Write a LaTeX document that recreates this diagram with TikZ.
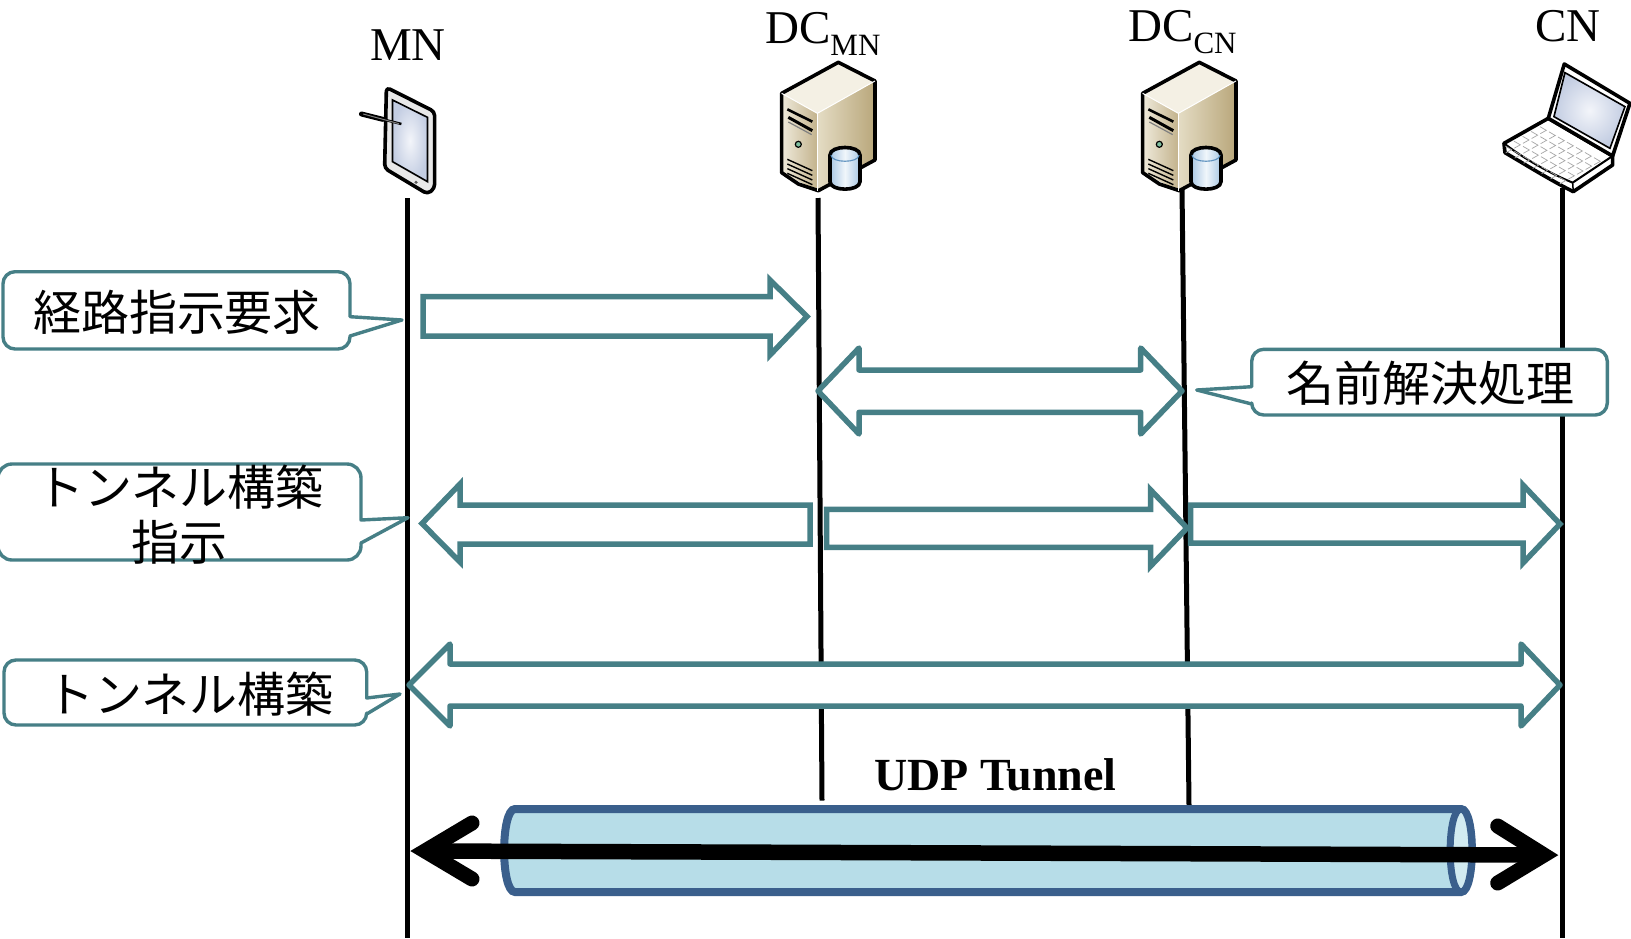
\documentclass[tikz,border=0pt]{standalone}
\usepackage{fontspec}
\setmainfont{Liberation Serif}
\newfontfamily\jpfont{Noto Sans CJK JP}
\definecolor{tealline}{HTML}{467F86}
\definecolor{tubeline}{HTML}{3A5F8C}
\definecolor{tubefill}{HTML}{B7DDE8}
\definecolor{tubeend}{HTML}{D2EBF1}
\definecolor{srvtop}{HTML}{F4F0E4}
\definecolor{srvfrontL}{HTML}{EFEADB}
\definecolor{srvfrontR}{HTML}{C3B38D}
\definecolor{srvsideL}{HTML}{E4DCC4}
\definecolor{srvsideR}{HTML}{B9A77B}
\definecolor{srvled}{HTML}{7FBFA0}
\definecolor{cylside}{HTML}{A9C7E3}
\definecolor{cylmid}{HTML}{F0F6FB}
\definecolor{cylrim}{HTML}{5C90BE}
\definecolor{glassin}{HTML}{F3F5FA}
\definecolor{glassout}{HTML}{C3CDE2}
\definecolor{tabbody}{HTML}{E8E8E8}
\tikzset{
  lifeline/.style={draw=black,line width=5pt},
  blockmiter/.style={draw=tealline,fill=white,line width=5.5pt,line join=miter,miter limit=10},
  blockround/.style={draw=tealline,fill=white,line width=5.5pt,line join=round},
  callout/.style={draw=tealline,fill=white,line width=3.4pt,line join=round},
  jplabel/.style={font=\jpfont\fontsize{48}{55}\selectfont,inner sep=0pt,text=black,align=center},
  actor/.style={font=\fontsize{47}{50}\selectfont,inner sep=0pt,anchor=base,text=black},
  iconline/.style={draw=black,line width=3.6pt,line join=round},
  thickhead/.style={draw=black,line width=15pt,line cap=round,line join=miter,miter limit=10},
  tube/.style={draw=tubeline,line width=8pt},
}
\newcommand{\serverdraw}[1]{%
  \begin{scope}[shift={(#1,0)},scale=0.3333]
    \path[left color=srvfrontL,right color=srvfrontR] (68,280)--(175,340)--(175,572)--(68,518)--cycle;
    \path[left color=srvsideL,right color=srvsideR] (175,340)--(348,243)--(348,480)--(175,572)--cycle;
    \path[fill=srvtop] (238,187)--(348,243)--(175,340)--(68,280)--cycle;
    \draw[iconline] (238,187)--(348,243)--(348,480)--(178,572)--(118,552)--(68,518)--(68,280)--cycle;
    \draw[white,line width=1pt] (68,280)--(175,340)--(348,243);
    \draw[white,line width=1pt] (175,340)--(175,572);
    \draw[black,line width=2.6pt] (85,328)--(160,365);
    \draw[black,line width=3pt] (88,352)--(160,392);
    \draw[gray,line width=1.2pt] (88,366)--(158,404);
    \draw[black,fill=srvled,line width=1.2pt] (118,433) circle (9);
    \foreach \dy in {0,14,28,42}{\draw[black,line width=1.4pt] (85,478+\dy)--(160,512+\dy);}
    \path[left color=cylside,right color=cylside,middle color=cylmid,draw=black,line width=3.6pt]
      (213,465)--(213,545) .. controls (213,575) and (303,575) .. (303,545)--(303,465)
      .. controls (303,435) and (213,435) .. (213,465)--cycle;
    \draw[draw=cylrim,line width=1.1pt] (216,465) .. controls (216,490) and (300,490) .. (300,465);
  \end{scope}}
\begin{document}
\begin{tikzpicture}[x=1pt,y=-1pt]
\useasboundingbox (0,0) rectangle (1631,938);
\fill[white] (0,0) rectangle (1631,938);
% lifeline ends
\coordinate (mnTop) at (407.7,198);   \coordinate (mnBot) at (407.7,938);
\coordinate (dmTop) at (818,198);     \coordinate (dmBot) at (822,800.5);
\coordinate (dcTop) at (1182,188);    \coordinate (dcBot) at (1189,805);
\coordinate (cnTop) at (1562,188);    \coordinate (cnBot) at (1562,938);
\draw[lifeline] (mnTop)--(mnBot);
\draw[lifeline] (dmTop)--(dmBot);
\draw[lifeline] (dcTop)--(dcBot);
\draw[lifeline] (cnTop)--(cnBot);
% labels
\node[actor] (mn) at (408,60) {MN};
\node[actor,anchor=base west] (dcmn) at (765,43.3) {DC\raisebox{-11.7pt}{\fontsize{31}{33}\selectfont MN}};
\node[actor,anchor=base west] (dccn) at (1128,41.7) {DC\raisebox{-11.7pt}{\fontsize{31}{33}\selectfont CN}};
\node[actor] (cn) at (1568,41.7) {CN};
% tablet
\begin{scope}[shift={(340,0)},xscale=0.357,yscale=0.3333]
  \path[fill=tabbody,rounded corners=4pt,draw=black,line width=3.6pt,line join=round]
    (130,262)--(265,335)--(265,565)--(245,582)--(125,505)--cycle;
  \shade[inner color=glassin,outer color=glassout,draw=black,line width=1.6pt] (147,300)--(245,352)--(245,545)--(147,485)--cycle;
  \draw[black,line width=5pt,line cap=round] (60,342)--(120,358);
  \draw[black,line width=2.5pt] (120,358)--(172,372);
  \draw[gray,line width=1pt] (65,342)--(165,371);
  \fill[gray!70!black] (213,547) circle (5);
\end{scope}
% servers
\serverdraw{759}
\serverdraw{1120}
% laptop
\begin{scope}[shift={(1120,0)},scale=0.3333]
  \path[fill=white,draw=black,line width=3.6pt,line join=round]
    (1152,430)--(1285,355)--(1478,468)--(1478,495)--(1360,575)
    .. controls (1290,540) and (1210,490) .. (1155,458)--cycle;
  \draw[black,line width=2pt] (1152,430) .. controls (1210,475) and (1290,520) .. (1358,548)--(1478,468);
  \draw[black,line width=1.5pt] (1358,548)--(1360,575);
  \foreach \i in {0,...,6}{\foreach \j in {0,...,4}{
    \draw[black!35,line width=.7pt]
      ({1260-\j*26+\i*27},{380+\j*14.5+\i*15.5})--++(19,11)--++(-18,10);
  }}
  \path[fill=white,draw=black,line width=3.6pt,line join=round]
    (1285,355)--(1333,192)--(1530,310)--(1478,468)--cycle;
  \shade[inner color=glassin,outer color=glassout,draw=black,line width=1.6pt]
    (1302,350)--(1335,218)--(1515,320)--(1470,445)--cycle;
\end{scope}
% block arrows
\path[blockmiter] (423,296.7)--(770,296.7)--(770,280)--(807,316.5)--(770,355)--(770,336)--(423,336)--cycle;
\path[blockround] (818,391)--(859,348)--(859,370)--(1140.7,370)--(1140.7,348)--(1182,391)--(1140.7,434)--(1140.7,412.3)--(859,412.3)--(859,434)--cycle;
\path[blockmiter] (810,505)--(460,505)--(460,484)--(422,523.5)--(460,562)--(460,544)--(810,544)--cycle;
\path[blockmiter] (826.7,509.3)--(1150.7,509.3)--(1150.7,490)--(1187,528)--(1150.7,566)--(1150.7,547.3)--(826.7,547.3)--cycle;
\path[blockmiter] (1190.7,505)--(1523,505)--(1523,485)--(1560,524)--(1523,563)--(1523,543)--(1190.7,543)--cycle;
\path[blockround] (409,685)--(450,644)--(450,664)--(1521,664)--(1521,644)--(1560,685)--(1521,726)--(1521,706)--(450,706)--(450,726)--cycle;
% callouts
\coordinate (tipA) at (402,320);
\coordinate (tipB) at (1196.7,390);
\coordinate (tipC) at (408,517.7);
\coordinate (tipD) at (400,694);
\draw[callout] (350,316.7)--(tipA)--(350,336) [rounded corners=12pt]--(350,349)--(3,349)--(3,271.7)--(350,271.7)--(350,316.7) [sharp corners]--cycle;
\draw[callout] (1251.7,386.7)--(tipB)--(1251.7,404) [rounded corners=12pt]--(1251.7,415)--(1607.3,415)--(1607.3,349.3)--(1251.7,349.3)--(1251.7,386.7) [sharp corners]--cycle;
\draw[callout] (361,520)--(tipC)--(361,543) [rounded corners=14pt]--(361,560)--(-2,560)--(-2,464)--(361,464)--(361,520) [sharp corners]--cycle;
\draw[callout] (366.7,698)--(tipD)--(366.7,714) [rounded corners=12pt]--(366.7,725)--(4,725)--(4,660)--(366.7,660)--(366.7,698) [sharp corners]--cycle;
\node[jplabel,anchor=base] (lA) at (177,330) {経路指示要求};
\node[jplabel,anchor=base] (lB) at (1430,401) {名前解決処理};
\node[jplabel,anchor=center] (lC) at (180,515) {トンネル構築\\指示};
\node[jplabel,anchor=base] (lD) at (190,712) {トンネル構築};
% tunnel
\path[tube,fill=tubefill] (515,809)--(1461,809)
  .. controls (1475.5,809) and (1475.5,892) .. (1461,892)--(515,892)
  .. controls (500.5,892) and (500.5,809) .. (515,809)--cycle;
\path[tube,fill=tubeend,line width=7pt] (1461,809)
  .. controls (1475.5,809) and (1475.5,892) .. (1461,892)
  .. controls (1446.5,892) and (1446.5,809) .. (1461,809)--cycle;
\node[font=\bfseries\fontsize{46}{50}\selectfont,inner sep=0pt,anchor=base] (udp) at (995.5,790.7) {UDP Tunnel};
% black arrow
\coordinate (endL) at (425,851);
\coordinate (endR) at (1544,855);
\draw[black,line width=15.5pt] (endL)--(endR);
\coordinate (bL1) at (472,823); \coordinate (bL2) at (472,879);
\coordinate (bR1) at (1497.7,826); \coordinate (bR2) at (1497.7,883);
\draw[thickhead] (bL1)--(endL)--(bL2);
\draw[thickhead] (bR1)--(endR)--(bR2);
\end{tikzpicture}
\end{document}
